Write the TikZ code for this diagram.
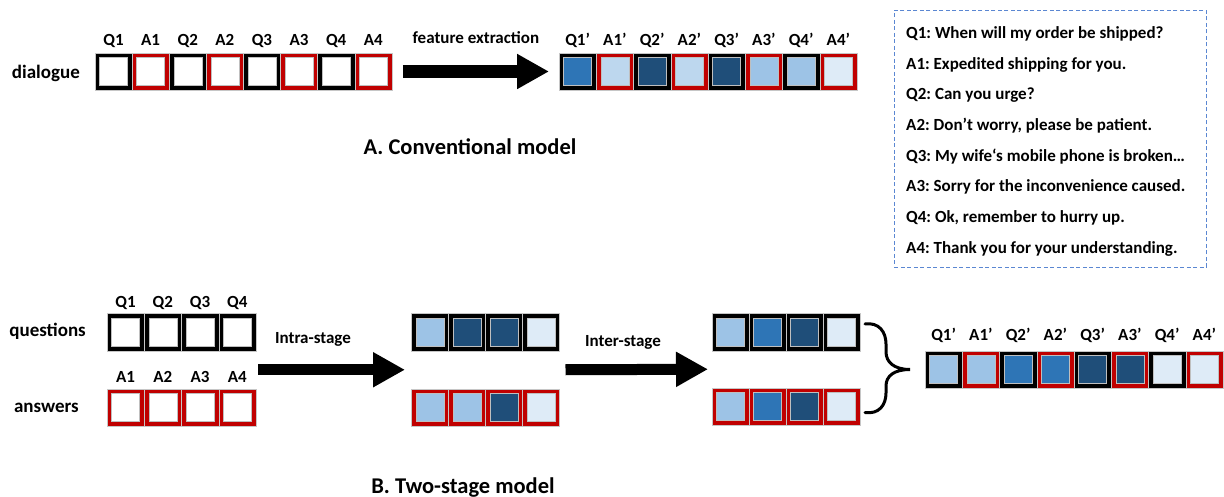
\documentclass[tikz,border=0pt]{standalone}
\usepackage{fontspec}
\setmainfont{Carlito}
\usetikzlibrary{arrows.meta,calc}
\frenchspacing

\definecolor{qred}{HTML}{C00000}
\definecolor{bdark}{HTML}{1F4E79}
\definecolor{bmid}{HTML}{2E75B6}
\definecolor{blight}{HTML}{9DC3E6}
\definecolor{bpale}{HTML}{BDD7EE}
\definecolor{bfaint}{HTML}{DEEBF7}
\definecolor{boxblue}{HTML}{5B87D2}

% one row of feature cells: prefix, left x, centre y, cell width, list border/fill
\newcommand{\cellrow}[5]{%
  \foreach \bc/\fc [count=\i] in {#5} {
    \node[outercell, minimum width=#4pt, fill=\bc] (#1\i) at ({#2+#4*(\i-0.5)}, #3) {};
    \node[innercell, fill=\fc] (#1\i in) at (#1\i) {};
  }%
}
% labels above a row of cells: prefix, baseline y, list of labels
\newcommand{\rowlabels}[3]{%
  \foreach \t [count=\i] in {#3} {
    \node[lbl, anchor=base] (#1\i lab) at (#1\i |- 0,#2) {\t};
  }%
}

\begin{document}
\begin{tikzpicture}[x=1pt, y=-1pt,
  outercell/.style={minimum height=37.5pt, inner sep=0pt, outer sep=0pt,
    draw=gray!45, line width=0.4pt},
  innercell/.style={minimum width=28pt, minimum height=28pt, inner sep=0pt,
    outer sep=0pt, draw=gray!50, line width=0.5pt},
  lbl/.style={font=\fontsize{17}{20}\selectfont\bfseries, inner sep=0pt},
  side/.style={font=\fontsize{19}{22}\selectfont\bfseries, inner sep=0pt, anchor=base east},
  caption/.style={font=\fontsize{22.5}{26}\selectfont\bfseries, inner sep=0pt, anchor=base},
  note/.style={font=\fontsize{17}{20}\selectfont\bfseries, inner sep=0pt, anchor=base west},
  fatarrow/.style={line width=#1, -{Triangle[length=32pt, width=33pt]}},
  brace/.style={line width=3pt, line cap=round},
]
\useasboundingbox (0,0) rectangle (1224,497);

% ---------------- A. Conventional model ----------------
\cellrow{d}{95}{71.5}{37.1}{black/white, qred/white, black/white, qred/white,
  black/white, qred/white, black/white, qred/white}
\rowlabels{d}{45.5}{Q1, A1, Q2, A2, Q3, A3, Q4, A4}
\node[side] (dlg) at (80,79) {dialogue};

\cellrow{f}{559}{71.5}{37.25}{black/bmid, qred/bpale, black/bdark, qred/bpale,
  black/bdark, qred/blight, black/blight, qred/bfaint}
\rowlabels{f}{45.5}{Q1’, A1’, Q2’, A2’, Q3’, A3’, Q4’, A4’}

\draw[fatarrow=13pt] ([xshift=11pt]d8.east) -- ([xshift=-10pt]f1.west)
  node[lbl, midway, anchor=base, yshift=27.5pt] (fe) {feature extraction};

\node[caption] (capA) at (470,155) {A. Conventional model};

% ---------------- dialogue text ----------------
\node[draw=boxblue, line width=0.9pt, dash pattern=on 4pt off 2.5pt,
  minimum width=312pt, minimum height=257pt, anchor=north west, inner sep=0pt]
  (legend) at (894,10) {};
\foreach \t [count=\i] in {
  {Q1: When will my order be shipped?},
  {A1: Expedited shipping for you.},
  {Q2: Can you urge?},
  {A2: Don’t worry, please be patient.},
  {Q3: My wife‘s mobile phone is broken…},
  {A3: Sorry for the inconvenience caused.},
  {Q4: Ok, remember to hurry up.},
  {A4: Thank you for your understanding.}} {
  \node[note] (line\i) at (906, {38.5+30.7*(\i-1)}) {\t};
}

% ---------------- B. Two-stage model ----------------
\cellrow{q}{107}{332}{37.25}{black/white, black/white, black/white, black/white}
\rowlabels{q}{307.5}{Q1, Q2, Q3, Q4}
\cellrow{a}{107}{407.5}{37.25}{qred/white, qred/white, qred/white, qred/white}
\rowlabels{a}{382.5}{A1, A2, A3, A4}
\node[side] (qs) at (86,336) {questions};
\node[side] (as) at (79,412) {answers};

\cellrow{mq}{411.5}{332}{37}{black/blight, black/bdark, black/bdark, black/bfaint}
\cellrow{ma}{411.5}{407.5}{37}{qred/blight, qred/blight, qred/bdark, qred/bfaint}

\cellrow{rq}{712}{332}{37}{black/blight, black/bmid, black/bdark, black/bfaint}
\cellrow{ra}{712}{406.5}{37}{qred/blight, qred/bmid, qred/bdark, qred/bfaint}

\draw[fatarrow=11pt] ([xshift=2pt]$(q4.east)!0.5!(a4.east)$) --
  ([xshift=-6.5pt]$(mq1.west)!0.5!(ma1.west)$);
\node[lbl, anchor=base] (intra) at (313,343) {Intra-stage};

\draw[fatarrow=11pt] ([xshift=6pt]$(mq4.east)!0.5!(ma4.east)$) --
  ([xshift=-4pt]$(rq1.west)!0.5!(ra1.west)$);
\node[lbl, anchor=base] (inter) at (623,346) {Inter-stage};

\cellrow{o}{925}{369.5}{37.25}{black/blight, qred/blight, black/bmid, qred/bmid,
  black/bdark, qred/bdark, black/bfaint, qred/bfaint}
\rowlabels{o}{340.5}{Q1’, A1’, Q2’, A2’, Q3’, A3’, Q4’, A4’}

% curly brace joining both rows into the merged sequence
\coordinate (btop) at ([xshift=5pt, yshift=8pt]rq4.east);
\coordinate (btip) at ([xshift=-15pt]o1.west);
\coordinate (bbot) at ([xshift=5pt, yshift=-6pt]ra4.east);
\draw[brace] (btop) .. controls +(14,-2) and +(0,-12) .. (886,344) -- (886,352)
  .. controls +(0,10) and +(-16,0) .. (btip)
  .. controls +(-16,0) and +(0,-10) .. (886,386) -- (886,393)
  .. controls +(0,12) and +(14,2) .. (bbot);

\node[caption] (capB) at (463,493) {B. Two-stage model};
\end{tikzpicture}
\end{document}
